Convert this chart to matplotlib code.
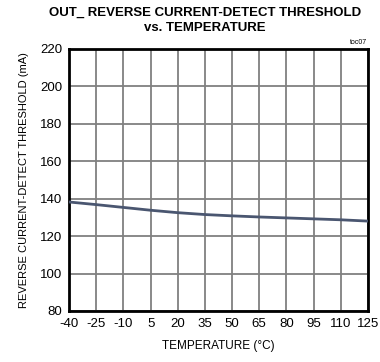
import numpy as np
import matplotlib.pyplot as plt

# datos
temp = [-40, -25, -10, 5, 20, 35, 50, 65, 80, 95, 110, 125]
umbral = [138.2, 136.8, 135.3, 133.8, 132.5, 131.5, 130.8, 130.2, 129.7, 129.2, 128.7, 128.0]
xticks = [-40, -25, -10, 5, 20, 35, 50, 65, 80, 95, 110, 125]
yticks = [80, 100, 120, 140, 160, 180, 200, 220]

plt.rcParams['font.family'] = ['Liberation Sans', 'DejaVu Sans']

fig = plt.figure(figsize=(3.8, 3.62), dpi=100)
ax = fig.add_axes([0.182, 0.141, 0.786, 0.724])

ax.plot(temp, umbral, color='#4a5670', lw=2.0, zorder=3)

ax.set_xlim(-40, 125)
ax.set_ylim(80, 220)
ax.set_xticks(xticks)
ax.set_xticklabels([str(t) for t in xticks])
ax.set_yticks(yticks)
ax.grid(True, color='#808080', lw=1.3)
ax.tick_params(length=0, labelsize=9.5, pad=5)
for s in ax.spines.values():
    s.set_linewidth(2)
    s.set_color('black')

ax.set_xlabel('TEMPERATURE (°C)', fontsize=8.5, labelpad=7)
ax.set_ylabel('REVERSE CURRENT-DETECT THRESHOLD (mA)', fontsize=8, labelpad=8)
fig.text(0.54, 0.98, 'OUT_ REVERSE CURRENT-DETECT THRESHOLD\nvs. TEMPERATURE',
         ha='center', va='top', fontsize=9.5, fontweight='bold', linespacing=1.3)
fig.text(0.965, 0.872, 'toc07', ha='right', va='bottom', fontsize=5)

fig.savefig('out.png', dpi=100)
